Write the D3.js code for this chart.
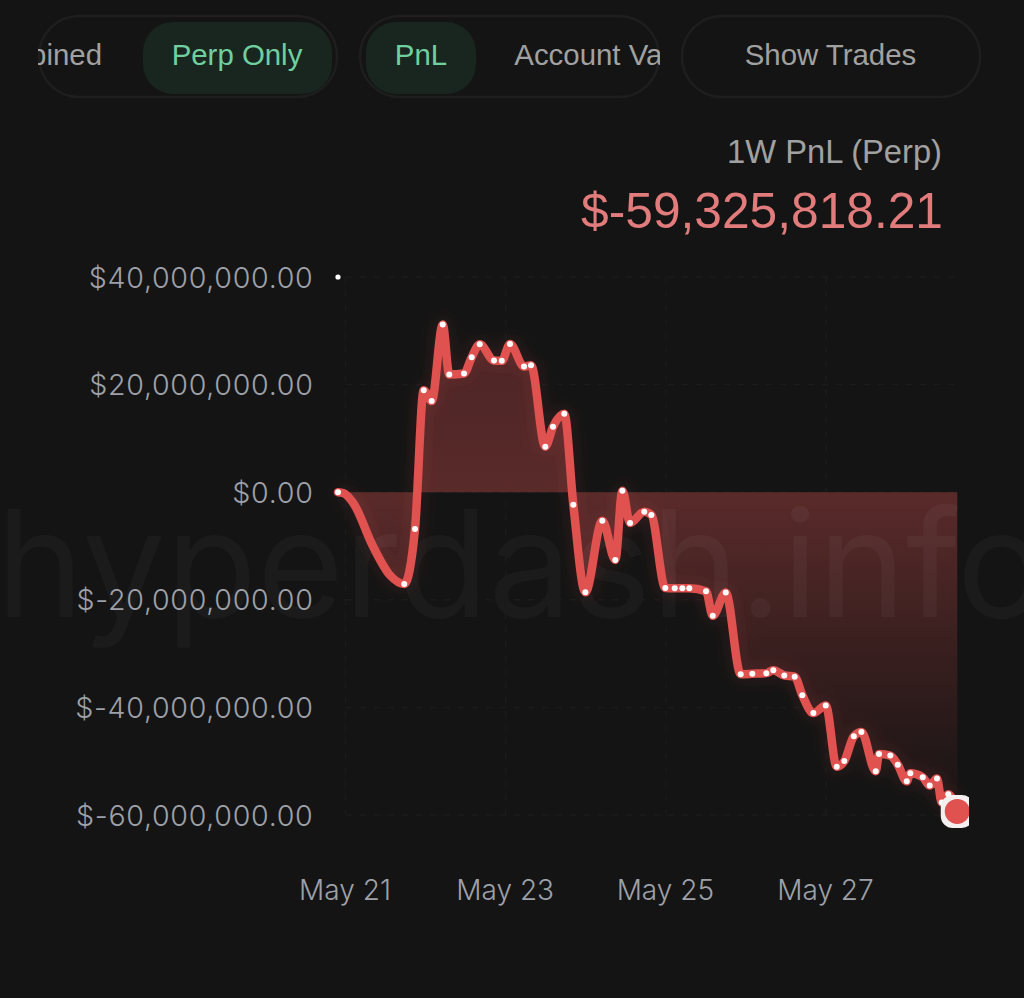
<!DOCTYPE html>
<html><head><meta charset="utf-8">
<script src="https://cdn.jsdelivr.net/npm/d3@7/dist/d3.min.js"></script>
<style>html,body{margin:0;padding:0;background:#000;overflow:hidden}svg{display:block}</style>
</head><body><svg id="c" width="1024" height="998"></svg>
<script>
// Day of May (decimal) and PnL in $ millions: points with a visible dot
const days = [20.906,21.734,21.868,21.977,22.076,22.214,22.296,22.480,22.576,22.676,22.854,22.951,23.054,23.229,23.316,23.495,23.591,23.732,23.845,23.995,24.207,24.369,24.457,24.553,24.731,24.819,24.994,25.111,25.206,25.293,25.502,25.586,25.748,25.935,26.080,26.255,26.342,26.479,26.609,26.704,26.842,26.997,27.134,27.229,27.347,27.442,27.621,27.662,27.803,27.896,28.008,28.053,28.208,28.295,28.386,28.445,28.527,28.639];
const pnl = [0,-17.04,-6.83,18.97,16.93,31.15,21.87,22.05,25.10,27.51,24.46,24.41,27.56,23.35,23.61,8.45,12.16,14.57,-2.32,-18.60,-5.29,-12.58,0.28,-5.72,-3.62,-4.23,-17.82,-17.86,-17.86,-17.86,-18.41,-22.98,-18.65,-33.82,-33.74,-33.63,-33.08,-34.06,-34.30,-37.72,-41.06,-39.63,-51.01,-49.97,-45.38,-44.58,-51.88,-48.67,-48.96,-50.64,-53.74,-52.25,-52.99,-54.53,-53.23,-57.69,-56.15,-59.33];
// Readings of the line between the first two dots
const lineOnlyDays = [20.97,21.097,21.343,21.556];
const lineOnlyPnl = [-0.15,-2.0,-10.06,-15.44];
const strayPoint = [20.906,40];
const yTicks = [40,20,0,-20,-40,-60];
const xTicks = [21,23,25,27];
const title = "1W PnL (Perp)";
const headline = "$-59,325,818.21";
const watermark = "hyperdash.info";

const svg = d3.select("#c");
const defs = svg.append("defs");
const W=1024,H=998;
svg.append("rect").attr("width",W).attr("height",H).attr("fill","#0e0e0e");
svg.append("rect").attr("x",-40).attr("y",-40).attr("width",W+80).attr("height",H+40).attr("rx",36).attr("fill","#141414");

const x = d3.scaleLinear().domain([21,27]).range([345.5,826]);
const y = d3.scaleLinear().domain([40,-60]).range([277,815]);
const pts = days.map((d,i)=>({d,v:pnl[i]}));
const linePts = pts.concat(lineOnlyDays.map((d,i)=>({d,v:lineOnlyPnl[i]}))).sort((a,b)=>a.d-b.d);

// watermark
const wmAttrs = s=>s.attr("x",-4).attr("y",617).text(watermark).attr("font-family","Inter").attr("font-size",149).attr("font-weight",400);
svg.append("text").call(wmAttrs).attr("fill","#1b1b1b");

// grid
const grid = svg.append("g").attr("stroke","#1b1b1b").attr("stroke-width",1.5).attr("stroke-dasharray","6 8");
yTicks.forEach(t=>grid.append("line").attr("x1",346).attr("x2",957).attr("y1",y(t)).attr("y2",y(t)));
xTicks.forEach(t=>grid.append("line").attr("x1",x(t)).attr("x2",x(t)).attr("y1",y(40)).attr("y2",y(-60)));

// axes
const yAxis = d3.axisLeft(y).tickValues(yTicks).tickSize(0).tickPadding(32)
  .tickFormat(v=>v<0?`$-${d3.format(",.2f")(-v*1e6)}`:`$${d3.format(",.2f")(v*1e6)}`);
const gy = svg.append("g").attr("transform","translate(345.5,1)").call(yAxis);
const xAxis = d3.axisBottom(x).tickValues(xTicks).tickSize(0).tickPadding(65).tickFormat(d=>`May ${d}`);
const gx = svg.append("g").attr("transform","translate(-1,815)").call(xAxis);
[gy,gx].forEach(g=>{g.select(".domain").remove();
  g.selectAll("text").attr("font-family","Inter").attr("font-size",28).attr("fill","#9ea1a9").style("font-weight",350);});
gy.selectAll("text").attr("font-size",28.6).style("letter-spacing","0.7px");

// area
const grad = defs.append("linearGradient").attr("id","g").attr("gradientUnits","userSpaceOnUse")
  .attr("x1",0).attr("x2",0).attr("y1",y(32)).attr("y2",y(-60));
[[0,"#4a2424"],[0.35,"#5a2a2a"],[0.55,"#452323"],[0.8,"#2b1a1a"],[1,"#161414"]].forEach(s=>grad.append("stop").attr("offset",s[0]).attr("stop-color",s[1]));
const curve = d3.curveMonotoneX;
const area = d3.area().x(d=>x(d.d)).y0(y(0)).y1(d=>y(d.v)).curve(curve);
svg.append("path").datum(linePts).attr("fill","url(#g)").attr("d",area);
defs.append("clipPath").attr("id","areaClip").append("path").datum(linePts).attr("d",area);
svg.append("text").call(wmAttrs).attr("clip-path","url(#areaClip)").attr("fill","#ffffff").attr("fill-opacity",0.04);

// line with soft glow
defs.append("filter").attr("id","blur").attr("x","-10%").attr("y","-10%").attr("width","120%").attr("height","120%")
  .append("feGaussianBlur").attr("stdDeviation",8);
const line = d3.line().x(d=>x(d.d)).y(d=>y(d.v)).curve(curve);
svg.append("path").datum(linePts).attr("d",line).attr("fill","none").attr("stroke","#e0524f").attr("stroke-opacity",0.14).attr("stroke-width",12).attr("filter","url(#blur)");
svg.append("path").datum(linePts).attr("d",line).attr("fill","none").attr("stroke","#e0524f").attr("stroke-width",8.5).attr("stroke-linejoin","round").attr("stroke-linecap","round");

// dots
svg.append("g").selectAll("circle").data(pts.slice(0,-1)).join("circle")
  .attr("cx",d=>x(d.d)).attr("cy",d=>y(d.v)).attr("r",3).attr("fill","#fff");
svg.append("circle").attr("cx",x(strayPoint[0])).attr("cy",y(strayPoint[1])).attr("r",2.6).attr("fill","#fff");

// end marker, clipped at chart edge
defs.append("clipPath").attr("id","endClip").append("rect").attr("x",930).attr("y",780).attr("width",39).attr("height",60);
const last = pts[pts.length-1];
const m = svg.append("g").attr("clip-path","url(#endClip)");
m.append("rect").attr("x",x(last.d)-16.5).attr("y",y(last.v)-16.5).attr("width",33).attr("height",33).attr("rx",12).attr("fill","#f4f0f0");
m.append("circle").attr("cx",x(last.d)).attr("cy",y(last.v)).attr("r",12.5).attr("fill","#e0524f");

// header text
const sans = "'Liberation Sans'";
svg.append("text").attr("x",942).attr("y",163).attr("text-anchor","end").text(title)
  .attr("font-family",sans).attr("font-size",32.7).attr("fill","#a1a1a1");
svg.append("text").attr("x",943).attr("y",228).attr("text-anchor","end").text(headline)
  .attr("font-family",sans).attr("font-size",49.7).attr("fill","#e27b7b");

// control pills
const pillGroups = [{x:38,w:300},{x:359,w:301},{x:681,w:300}];
pillGroups.forEach(p=>svg.append("rect").attr("x",p.x+1).attr("y",16).attr("width",p.w-2).attr("height",81).attr("rx",40).attr("fill","none").attr("stroke","#1e1e1e").attr("stroke-width",2.5));
svg.append("rect").attr("x",143).attr("y",22).attr("width",189).attr("height",72).attr("rx",30).attr("fill","#19261f");
svg.append("rect").attr("x",366).attr("y",22).attr("width",110).attr("height",72).attr("rx",30).attr("fill","#19261f");
defs.append("clipPath").attr("id","p1").append("rect").attr("x",38).attr("y",15).attr("width",300).attr("height",84);
defs.append("clipPath").attr("id","p2").append("rect").attr("x",359).attr("y",15).attr("width",301).attr("height",84);
const lab=(t,cx,c,clip)=>{const e=svg.append("text").attr("x",cx).attr("y",65).attr("text-anchor","middle").text(t)
  .attr("font-family",sans).attr("font-size",29.4).attr("fill",c); if(clip)e.attr("clip-path",`url(#${clip})`);};
lab("Combined",35,"#a1a1a1","p1");
lab("Perp Only",237,"#6fcf9f");
lab("PnL",421,"#6fcf9f");
lab("Account Value",608,"#a1a1a1","p2");
lab("Show Trades",830.5,"#a1a1a1");
</script></body></html>
